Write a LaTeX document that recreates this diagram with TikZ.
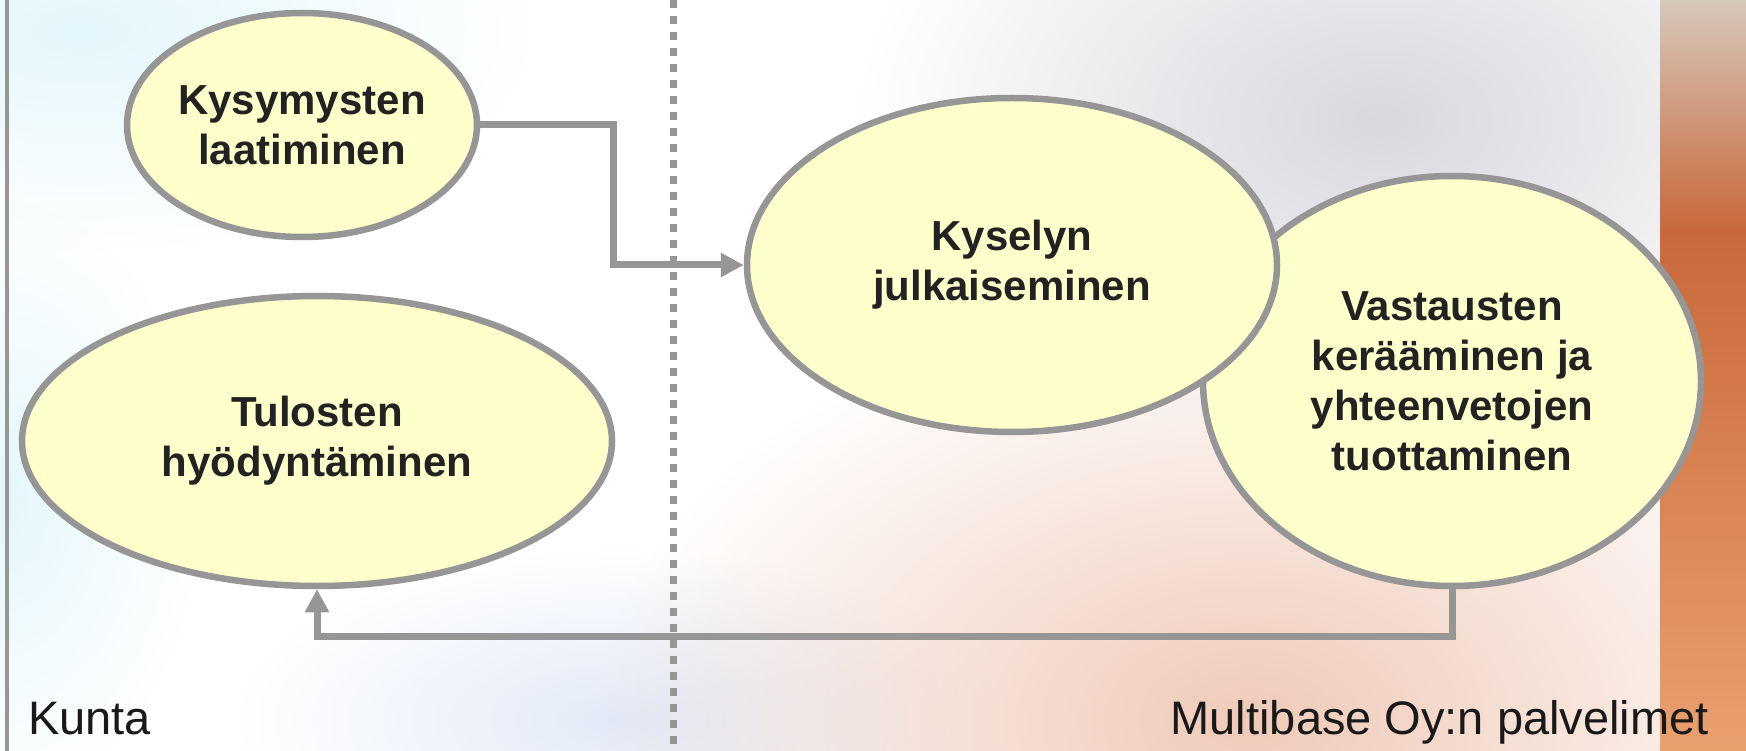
\documentclass[tikz,border=0pt]{standalone}
\usepackage{fontspec}
\setmainfont{Liberation Sans}
\usetikzlibrary{shapes.geometric,arrows.meta,fadings}
\definecolor{viiva}{RGB}{150,150,150}
\definecolor{soikio}{RGB}{255,255,204}
\definecolor{teksti}{RGB}{34,34,34}
\definecolor{syaani}{RGB}{228,247,252}
\definecolor{sininen}{RGB}{226,234,248}
\definecolor{persikka}{RGB}{240,202,184}
\definecolor{harmaa}{RGB}{216,216,222}
\definecolor{nauhayla}{RGB}{214,200,186}
\definecolor{oranssi}{RGB}{200,104,58}
\definecolor{vaaleaoranssi}{RGB}{234,160,110}
\tikzfading[name=pehmea, inner color=transparent!0, outer color=transparent!100]
\tikzset{
	vaihe/.style={ellipse, draw=viiva, line width=6.5pt, fill=soikio, text=teksti, align=center, inner sep=0pt, font=\bfseries\fontsize{42}{50}\selectfont},
	kulku/.style={draw=viiva, line width=7pt, -{Triangle[length=23pt,width=23pt]}},
	katko/.style={draw=viiva, line width=7pt, dash pattern=on 8pt off 8pt},
	otsikko/.style={text=black!90, inner sep=0pt, font=\fontsize{47}{56}\selectfont}
}

\begin{document}
\begin{tikzpicture}[x=1pt, y=-1pt]
				\useasboundingbox (0,0) rectangle (1746,751);
				\fill[white] (0,0) rectangle (1746,751);
				\fill[syaani, path fading=pehmea] (80,30) ellipse [x radius=450, y radius=220];
				\fill[syaani, path fading=pehmea] (0,500) ellipse [x radius=200, y radius=300];
				\fill[sininen, path fading=pehmea] (620,720) ellipse [x radius=380, y radius=170];
				\fill[persikka, path fading=pehmea] (1250,720) ellipse [x radius=650, y radius=420];
				\fill[harmaa, path fading=pehmea] (1380,120) ellipse [x radius=520, y radius=330];
				\shade[top color=nauhayla, bottom color=oranssi] (1660,0) rectangle (1746,230);
				\shade[top color=oranssi, bottom color=vaaleaoranssi] (1660,230) rectangle (1746,751);
				
				\draw[viiva, line width=4pt] (7,0) -- (7,751);
				\draw[katko] (673,0) -- (673,751);
				
				\node[vaihe, minimum width=498pt, minimum height=410pt] (vastaus) at (1452,381) {Vastausten\\kerääminen ja\\yhteenvetojen\\tuottaminen};
				\node[vaihe, minimum width=530pt, minimum height=334pt] (kysely) at (1012,265) {Kyselyn\\julkaiseminen};
				\node[vaihe, minimum width=348pt, minimum height=224pt] (kysymys) at (302,125) {Kysymysten\\laatiminen};
				\node[vaihe, minimum width=590pt, minimum height=290pt] (tulos) at (317,441) {Tulosten\\hyödyntäminen};
				
				\draw[kulku] (kysymys.east) -- ++(133,0) |- (kysely.west);
				\draw[kulku] (vastaus.south) -- ++(0,47) -| (tulos.south);
				
				\node[otsikko, anchor=base west] (kunta) at (28,734) {Kunta};
				\node[otsikko, anchor=base east] (palvelin) at (1709,734) {Multibase Oy:n palvelimet};
			\end{tikzpicture}
\end{document}
